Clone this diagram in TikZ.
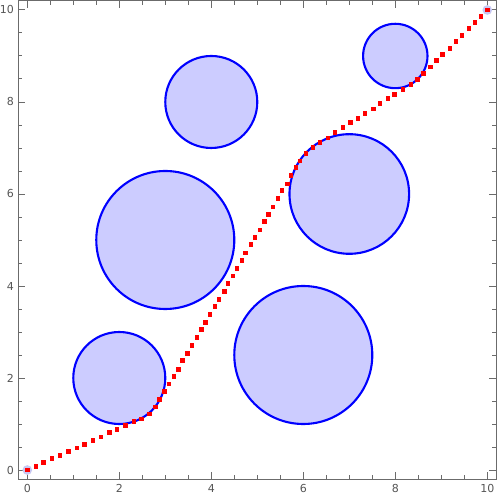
\documentclass[tikz,border=0pt]{standalone}
\usepackage{fontspec}
\setmainfont{DejaVu Sans}
\usetikzlibrary{positioning}
\definecolor{plotframe}{HTML}{6B6B6B}
\definecolor{plotlabel}{HTML}{555555}
\definecolor{obstfill}{HTML}{CCCCFF}
\definecolor{obstedge}{HTML}{0000FF}
\definecolor{endfill}{HTML}{C8C8F2}
\tikzset{
  obstacle/.style={
    draw=obstedge,
    fill=obstfill,
    line width=1.3pt
  },
  waypt/.style={
    rectangle,
    fill=red,
    inner sep=0pt,
    minimum size=2.9pt
  },
  endpt/.style={
    circle,
    fill=endfill,
    inner sep=0pt,
    minimum size=6pt
  },
  tickline/.style={
    draw=plotframe,
    line width=0.6pt
  },
  ticklabel/.style={
    text=plotlabel,
    font=\fontsize{6.8}{8}\selectfont,
    inner sep=1pt
  }
}

\begin{document}
\begin{tikzpicture}
\useasboundingbox (-0.593,-0.652) rectangle (10.276,10.217);
% frame and ticks
\draw[tickline] (-0.2,-0.2) rectangle (10.2,10.2);
\foreach \t in {0,0.5,...,10} {
  \draw[tickline] (\t,-0.2) -- ++(0,0.09);
  \draw[tickline] (\t,10.2) -- ++(0,-0.09);
  \draw[tickline] (-0.2,\t) -- ++(0.09,0);
  \draw[tickline] (10.2,\t) -- ++(-0.09,0);
}
\foreach \t in {0,2,...,10} {
  \draw[tickline] (\t,-0.2) -- ++(0,0.16);
  \draw[tickline] (\t,10.2) -- ++(0,-0.16);
  \draw[tickline] (-0.2,\t) -- ++(0.16,0);
  \draw[tickline] (10.2,\t) -- ++(-0.16,0);
  \node[ticklabel, anchor=north] (xl\t) at (\t,-0.27) {\t};
  \node[ticklabel, anchor=east] (yl\t) at (-0.25,\t) {\t};
}
% obstacles
\draw[obstacle] (2,2) circle (1);
\draw[obstacle] (3,5) circle (1.5);
\draw[obstacle] (4,8) circle (1);
\draw[obstacle] (6,2.5) circle (1.5);
\draw[obstacle] (7,6) circle (1.3);
\draw[obstacle] (8,9) circle (0.7);
% start and goal
\node[endpt] (start) at (0,0) {};
\node[endpt] (goal) at (10,10) {};
% path
\foreach \x/\y [count=\i] in {0/0, 0.19/0.07, 0.36/0.16, 0.54/0.25, 0.71/0.31, 0.90/0.40,
  1.08/0.48, 1.25/0.55, 1.43/0.64, 1.60/0.72, 1.78/0.81, 1.95/0.88, 2.14/0.96,
  2.32/1.05, 2.49/1.11, 2.65/1.22, 2.78/1.37, 2.88/1.53, 2.99/1.70, 3.08/1.87,
  3.19/2.03, 3.28/2.19, 3.38/2.38, 3.49/2.53, 3.58/2.70, 3.69/2.88, 3.78/3.05,
  3.88/3.20, 3.97/3.38, 4.08/3.55, 4.17/3.70, 4.28/3.88, 4.36/4.05, 4.47/4.22,
  4.56/4.38, 4.67/4.55, 4.75/4.72, 4.86/4.90, 4.95/5.05, 5.06/5.22, 5.15/5.40,
  5.25/5.55, 5.34/5.72, 5.45/5.90, 5.54/6.07, 5.65/6.22, 5.73/6.40, 5.84/6.57,
  5.93/6.72, 6.06/6.88, 6.21/7.01, 6.36/7.12, 6.54/7.22, 6.69/7.33, 6.86/7.44,
  7.02/7.55, 7.19/7.64, 7.34/7.75, 7.52/7.85, 7.67/7.96, 7.84/8.07, 7.99/8.16,
  8.17/8.27, 8.34/8.38, 8.49/8.49, 8.62/8.62, 8.77/8.76, 8.90/8.90, 9.03/9.03,
  9.19/9.16, 9.32/9.32, 9.45/9.45, 9.60/9.60, 9.73/9.73, 9.86/9.86, 10/10}
  \node[waypt] (w\i) at (\x,\y) {};
\end{tikzpicture}
\end{document}
